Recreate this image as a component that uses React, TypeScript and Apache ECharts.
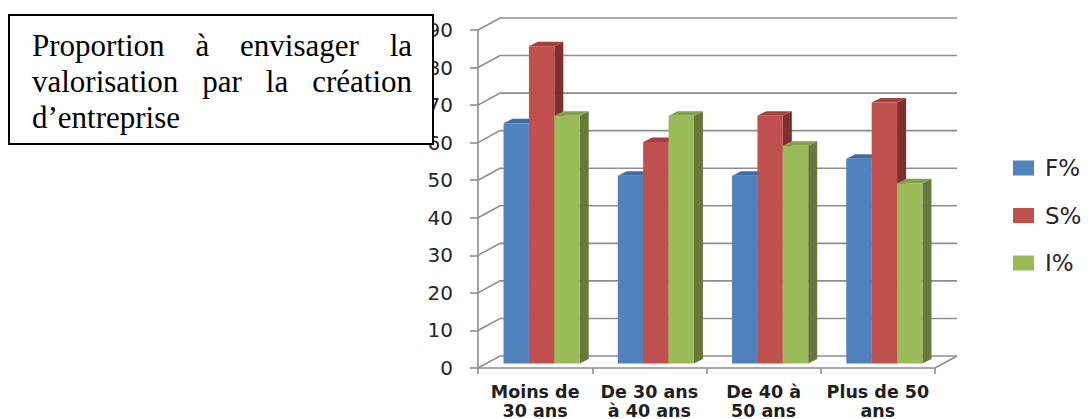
import React, { useEffect, useRef } from "react";
import * as echarts from "echarts";

const categories = ["Moins de\n30 ans", "De 30 ans\nà 40 ans", "De 40 à\n50 ans", "Plus de 50\nans"];
const seriesNames = ["F%", "S%", "I%"];
const fValues = [64, 50, 50, 54.5];
const sValues = [84.5, 59, 66, 69.5];
const iValues = [66, 66, 58, 48];
const yTicks = [0, 10, 20, 30, 40, 50, 60, 70, 80, 90];
const titleLines = [
  ["Proportion", "à", "envisager", "la"],
  ["valorisation", "par", "la", "création"],
  ["d’entreprise"],
];

const frontColors = ["#4F81BD", "#C0504D", "#9BBB59"];
const sideColors = ["#385D8A", "#7F2F2D", "#66793A"];
const topColors = ["#3F6CA3", "#A6403D", "#84A04A"];

const WALL_DX = 22;
const WALL_DY = -12;
const OX = 6.5;
const OY = -4.5;
const DX = 9;
const DY = -4.5;
const GRID_COLOR = "#8e8e8e";

export default function App() {
  const ref = useRef<HTMLDivElement>(null);
  useEffect(() => {
    if (!ref.current) return;
    const chart = echarts.init(ref.current, null, { renderer: "svg" });

    const allValues = [fValues, sValues, iValues];

    const barSeries = allValues.map((vals, k) => ({
      type: "custom",
      name: seriesNames[k],
      clip: false,
      z: 10 + k,
      itemStyle: { color: frontColors[k] },
      data: vals.map((v, i) => [i, v]),
      renderItem: (params: any, api: any) => {
        const ci = api.value(0);
        const v = api.value(1);
        const top = api.coord([ci, v]);
        const base = api.coord([ci, 0]);
        const band = api.size([1, 0])[0];
        const bw = band * 0.2222;
        const x0 = top[0] - 1.5 * bw + k * bw + OX;
        const yT = top[1] + OY;
        const yB = base[1] + OY;
        const x1 = x0 + bw;
        return {
          type: "group",
          children: [
            {
              type: "polygon",
              shape: { points: [[x1, yB], [x1 + DX, yB + DY], [x1 + DX, yT + DY], [x1, yT]] },
              style: { fill: sideColors[k] },
            },
            {
              type: "polygon",
              shape: { points: [[x0, yT], [x1, yT], [x1 + DX, yT + DY], [x0 + DX, yT + DY]] },
              style: { fill: topColors[k] },
            },
            {
              type: "rect",
              shape: { x: x0, y: yT, width: bw, height: yB - yT },
              style: { fill: frontColors[k] },
            },
          ],
        };
      },
    }));

    const wallSeries = {
      type: "custom",
      name: "walls",
      clip: false,
      silent: true,
      z: 1,
      data: yTicks.map((t) => [0, t]),
      renderItem: (params: any, api: any) => {
        const v = api.value(1);
        const y = api.coord([0, v])[1];
        const gx = params.coordSys.x;
        const gw = params.coordSys.width;
        const children: any[] = [
          {
            type: "polyline",
            shape: { points: [[gx, y], [gx + WALL_DX, y + WALL_DY], [gx + gw + WALL_DX, y + WALL_DY]] },
            style: { stroke: GRID_COLOR, lineWidth: 1.6, fill: "none" },
          },
        ];
        if (v === 0) {
          children.push({
            type: "line",
            shape: { x1: gx + gw, y1: y, x2: gx + gw + WALL_DX, y2: y + WALL_DY },
            style: { stroke: GRID_COLOR, lineWidth: 1.6 },
          });
        }
        return { type: "group", children };
      },
    };

    const titleFont = "31px 'Liberation Serif', 'Times New Roman', serif";
    const ctx = document.createElement("canvas").getContext("2d");
    if (ctx) ctx.font = titleFont;
    const measure = (t: string) => (ctx ? ctx.measureText(t).width : t.length * 14);
    const LEFT = 32;
    const RIGHT = 412;
    const lineYs = [45, 81, 117];
    const titleTexts: any[] = [];
    titleLines.forEach((words, li) => {
      const widths = words.map(measure);
      const total = widths.reduce((a, b) => a + b, 0);
      const justify = li < titleLines.length - 1 && words.length > 1;
      const gap = justify ? (RIGHT - LEFT - total) / (words.length - 1) : measure(" ");
      let x = LEFT;
      words.forEach((w, wi) => {
        titleTexts.push({
          type: "text",
          x,
          y: lineYs[li],
          z: 101,
          style: { text: w, font: titleFont, fill: "#000", align: "left", verticalAlign: "middle" },
        });
        x += widths[wi] + gap;
      });
    });

    chart.setOption({
      animation: false,
      backgroundColor: "#ffffff",
      grid: { left: 478, top: 30, width: 457, height: 338, outerBoundsMode: "none", containLabel: false },
      xAxis: {
        type: "category",
        data: categories,
        boundaryGap: true,
        axisLine: { show: true, lineStyle: { color: GRID_COLOR, width: 1.6 } },
        axisTick: { show: true, length: 6, alignWithLabel: false, lineStyle: { color: GRID_COLOR, width: 1.6 } },
        axisLabel: {
          margin: 14,
          interval: 0,
          fontFamily: "DejaVu Sans",
          fontWeight: "bold",
          fontSize: 17.5,
          lineHeight: 19,
          color: "#1e1e1e",
        },
        splitLine: { show: false },
      },
      yAxis: {
        type: "value",
        min: 0,
        max: 90,
        interval: 10,
        axisLine: { show: true, lineStyle: { color: GRID_COLOR, width: 1.6 } },
        axisTick: { show: true, length: 8, lineStyle: { color: GRID_COLOR, width: 1.6 } },
        axisLabel: { margin: 25, fontFamily: "DejaVu Sans", fontSize: 20, color: "#262626" },
        splitLine: { show: false },
      },
      legend: {
        orient: "vertical",
        left: 1013,
        top: 156.5,
        padding: 0,
        icon: "rect",
        itemWidth: 21,
        itemHeight: 15,
        itemGap: 24.5,
        data: seriesNames,
        textStyle: {
          fontFamily: "DejaVu Sans",
          fontSize: 23,
          color: "#262626",
          padding: [0, 0, 0, 6],
        },
      },
      graphic: [
        {
          type: "rect",
          z: 100,
          shape: { x: 9, y: 15, width: 424, height: 129 },
          style: { fill: "#fff", stroke: "#000", lineWidth: 2 },
        },
        ...titleTexts,
      ],
      series: [wallSeries, ...barSeries],
    });

    return () => chart.dispose();
  }, []);

  return (
    <div
      ref={ref}
      style={{ position: "fixed", left: 0, top: 0, width: 1088, height: 419, background: "#fff" }}
    />
  );
}
